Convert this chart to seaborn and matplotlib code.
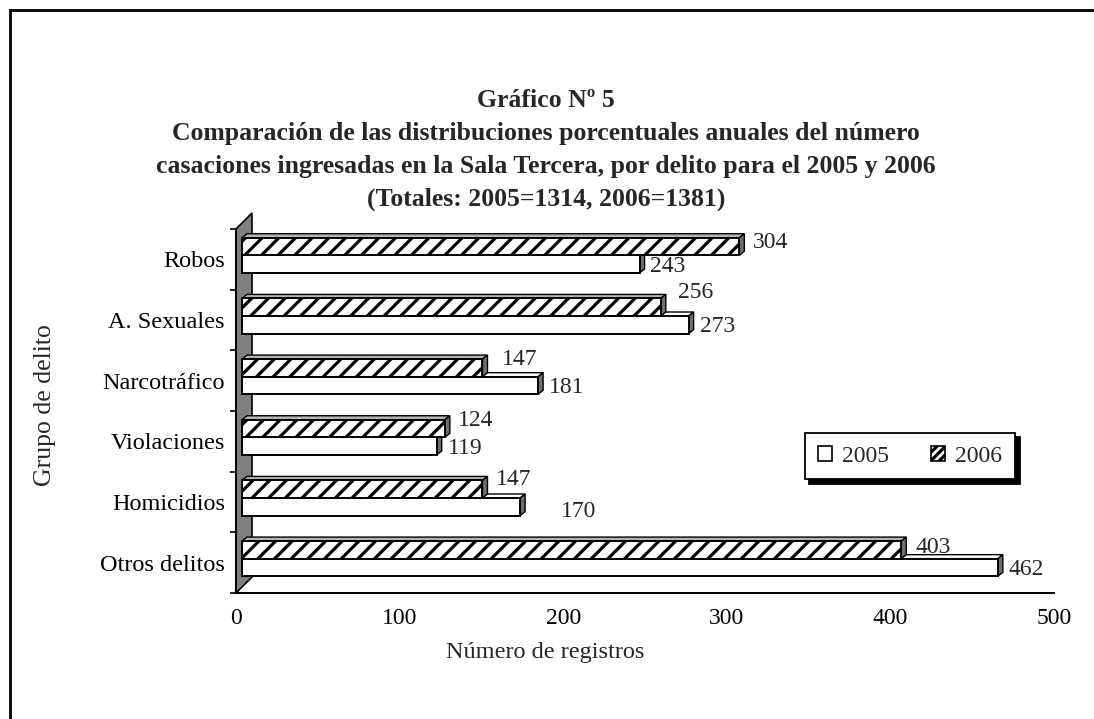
import numpy as np
import pandas as pd
import seaborn as sns
import matplotlib.pyplot as plt
from matplotlib.patches import Polygon, Patch, Rectangle
from matplotlib.transforms import ScaledTranslation

categories = ['Robos', 'A. Sexuales', 'Narcotráfico', 'Violaciones', 'Homicidios', 'Otros delitos']
values_2005 = [243, 273, 181, 119, 170, 462]
values_2006 = [304, 256, 147, 124, 147, 403]
years = ['2005', '2006']
x_ticks = [0, 100, 200, 300, 400, 500]

title = ('Gráfico Nº 5\n'
         'Comparación de las distribuciones porcentuales anuales del número\n'
         'casaciones ingresadas en la Sala Tercera, por delito para el 2005 y 2006\n'
         '(Totales: 2005=1314, 2006=1381)')

# label nudges in pixels (right, up) from the end of each bar
nudge_2006 = [(9, 4), (12, 15), (14, 8), (8, 8), (8, 10), (9, 2)]
nudge_2005 = [(5, -2), (6, -2), (6, -2), (6, -2), (36, -5), (6, -2)]

df = pd.DataFrame({
    'delito': categories * 2,
    'n': values_2005 + values_2006,
    'year': [years[0]] * len(categories) + [years[1]] * len(categories),
})

sns.set_style('white')
plt.rcParams['font.family'] = ['Liberation Serif', 'DejaVu Serif']
plt.rcParams['hatch.linewidth'] = 2.3

W, H, DPI = 1094, 719, 100
fig = plt.figure(figsize=(W / DPI, H / DPI), dpi=DPI)
fig.patch.set_facecolor('white')

# axes: x 0..500 -> px 236..1054, categories -> px 229..593
ax = fig.add_axes([236 / W, 1 - 593 / H, 818 / W, 364 / H])

sns.barplot(data=df, y='delito', x='n', hue='year', hue_order=['2006', '2005'],
            order=categories, orient='h', width=0.58,
            palette=['white', 'white'], edgecolor='black', linewidth=1.4,
            legend=False, ax=ax)

ax.set_xlim(0, 500)
ax.set_ylim(5.5, -0.5)
ax.set_facecolor('white')

px_x = 818 / 500.0
px_y = 364 / 6.0

# bars are pushed a little into the depth of the 3D box
shift = ScaledTranslation(6 / DPI, 4 / DPI, fig.dpi_scale_trans)
bar_tr = ax.transData + shift
ddx, ddy = 5 / px_x, -4 / px_y

# back wall
wdx, wdy = 16 / px_x, -16 / px_y
wall = Polygon([(0, 5.5), (0, -0.5), (wdx, -0.5 + wdy), (wdx, 5.5 + wdy)],
               closed=True, facecolor='#808080', edgecolor='black', lw=1.2,
               zorder=1, clip_on=False)
ax.add_patch(wall)

cont_2006, cont_2005 = ax.containers[0], ax.containers[1]

def dress(bars, hatched, z):
    for bar in bars:
        x0, y0 = bar.get_x(), bar.get_y()
        w, h = bar.get_width(), bar.get_height()
        top = Polygon([(x0, y0), (x0 + w, y0), (x0 + w + ddx, y0 + ddy), (x0 + ddx, y0 + ddy)],
                      closed=True, facecolor='#b4b4b4' if hatched else 'white',
                      edgecolor='black', lw=1.0, zorder=z, clip_on=False)
        side = Polygon([(x0 + w, y0), (x0 + w, y0 + h), (x0 + w + ddx, y0 + h + ddy),
                        (x0 + w + ddx, y0 + ddy)],
                       closed=True, facecolor='#6e6e6e', edgecolor='black', lw=1.0,
                       zorder=z, clip_on=False)
        for p in (top, side):
            p.set_transform(bar_tr)
            ax.add_patch(p)
        bar.set_transform(bar_tr)
        bar.set_zorder(z + 0.1)
        bar.set_clip_on(False)
        if hatched:
            bar.set_hatch('//')

dress(cont_2005, False, 2)
dress(cont_2006, True, 3)

def label(bars, vals, nudges):
    for bar, v, (nx, ny) in zip(bars, vals, nudges):
        yc = bar.get_y() + bar.get_height() / 2
        ax.annotate(str(v), xy=(v + ddx, yc), xycoords=bar_tr,
                    xytext=(nx * 0.72, ny * 0.72), textcoords='offset points',
                    ha='left', va='center', fontsize=17, zorder=5,
                    annotation_clip=False)

label(cont_2006, values_2006, nudge_2006)
label(cont_2005, values_2005, nudge_2005)

# axes cosmetics
sns.despine(ax=ax, top=True, right=True, left=False, bottom=False)
for s in ('left', 'bottom'):
    ax.spines[s].set_color('black')
    ax.spines[s].set_linewidth(1.4)
ax.spines['left'].set_zorder(1.5)
ax.set_xticks(x_ticks)
ax.set_yticks(np.arange(len(categories)))
ax.set_yticklabels(categories, fontsize=17.5)
ax.set_yticks(np.arange(-0.5, len(categories)), minor=True)
ax.tick_params(axis='x', which='major', length=5, width=1.2, color='black',
               direction='out', pad=6, labelsize=17)
ax.tick_params(axis='y', which='major', length=0, pad=8)
ax.tick_params(axis='y', which='minor', length=4, width=1.2, color='black',
               direction='out', left=True)
ax.tick_params(axis='both', labelcolor='black')

ax.set_xlabel('Número de registros', fontsize=17.5)
ax.set_ylabel('Grupo de delito', fontsize=18.5)
ax.xaxis.set_label_coords((545 - 236) / 818, -0.135)
ax.yaxis.set_label_coords((56 - 236) / 818, 0.515)

# legend with a solid drop shadow
handles = [Patch(facecolor='white', edgecolor='black', lw=1.2, label='2005'),
           Patch(facecolor='white', edgecolor='black', lw=1.2, hatch='////', label='2006')]
leg = ax.legend(handles=handles, ncol=2, loc='center',
                bbox_to_anchor=(910 / W, 1 - 456 / H), bbox_transform=fig.transFigure,
                frameon=True, fancybox=False, fontsize=17,
                handlelength=0.6, handleheight=0.6, handletextpad=0.45,
                columnspacing=1.75, borderpad=0.55, borderaxespad=0,
                shadow={'ox': 3, 'oy': -3, 'facecolor': 'black',
                        'edgecolor': 'black', 'alpha': 1})
leg.get_frame().set_edgecolor('black')
leg.get_frame().set_linewidth(1.3)
leg.get_frame().set_alpha(1)

# title
fig.text(546 / W, 1 - 150 / H, title, ha='center', va='center',
         fontsize=18.5, fontweight='bold', linespacing=1.55)

# outer frame of the chart area (runs past the right and bottom edges)
fig.patches.append(Rectangle((10 / W, -0.1), 1.2, 1.1 - 10 / H,
                             transform=fig.transFigure, fill=False,
                             edgecolor='black', lw=2.0))

fig.savefig('out.png', dpi=DPI, facecolor='white')
